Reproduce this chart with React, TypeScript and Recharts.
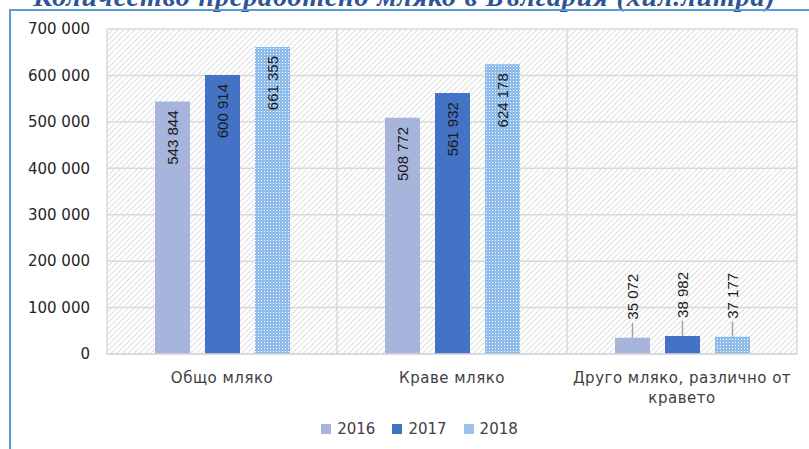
import { Bar, BarChart, CartesianGrid, LabelList, Legend, XAxis, YAxis } from 'recharts';

const categories = ['Общо мляко', 'Краве мляко', 'Друго мляко, различно от кравето'];
const values2016 = [543844, 508772, 35072];
const values2017 = [600914, 561932, 38982];
const values2018 = [661355, 624178, 37177];
const yTicks = [0, 100000, 200000, 300000, 400000, 500000, 600000, 700000];
const years = ['2016', '2017', '2018'];

const data = categories.map((name, i) => ({
  name,
  y2016: values2016[i],
  y2017: values2017[i],
  y2018: values2018[i],
}));

const colors = ['#a7b5dc', '#4472c4', 'url(#dots2018)'];
const legendColors = ['#a7b5dc', '#4472c4', '#9cc2ea'];
const font = '"DejaVu Sans", sans-serif';

const fmt = (v: number) => String(v).replace(/\B(?=(\d{3})+(?!\d))/g, ' ');

function ValueLabel(props: any) {
  const { x, y, width, height, value } = props;
  const cx = x + width / 2;
  if (height > 100) {
    return (
      <text
        x={cx}
        y={y + 9}
        transform={`rotate(-90 ${cx} ${y + 9})`}
        textAnchor="end"
        dominantBaseline="central"
        fontFamily='"Liberation Sans", sans-serif'
        fontSize={15}
        fill="#1a1a1a"
      >
        {fmt(value)}
      </text>
    );
  }
  return (
    <g>
      <line x1={cx} x2={cx} y1={y} y2={y - 15} stroke="#a6a6a6" strokeWidth={1.5} />
      <text
        x={cx}
        y={y - 18}
        transform={`rotate(-90 ${cx} ${y - 18})`}
        textAnchor="start"
        dominantBaseline="central"
        fontFamily='"Liberation Sans", sans-serif'
        fontSize={15}
        fill="#1a1a1a"
      >
        {fmt(value)}
      </text>
    </g>
  );
}

function CategoryTick(props: any) {
  const { x, y, payload } = props;
  const label: string = payload.value;
  const lines = label.length > 20 ? ['Друго мляко, различно от', 'кравето'] : [label];
  return (
    <text x={x} y={y} textAnchor="middle" fontFamily={font} fontSize={15} letterSpacing={0.5} fill="#404040">
      {lines.map((l, i) => (
        <tspan key={i} x={x} dy={i === 0 ? 27 : 20}>
          {l}
        </tspan>
      ))}
    </text>
  );
}

function LegendContent() {
  return (
    <div
      style={{
        display: 'flex',
        justifyContent: 'center',
        height: 20,
        alignItems: 'center',
        paddingLeft: 32,
        fontFamily: font,
        fontSize: 15,
        color: '#404040',
      }}
    >
      {years.map((yr, i) => (
        <div key={yr} style={{ display: 'flex', alignItems: 'center', marginRight: i < 2 ? 17 : 0 }}>
          <span style={{ width: 10, height: 10, background: legendColors[i], marginRight: 6, display: 'inline-block' }} />
          {yr}
        </div>
      ))}
    </div>
  );
}

export default function App() {
  return (
    <div style={{ position: 'absolute', left: 0, top: 0, width: 809, height: 449, overflow: 'hidden', background: '#fff' }}>
      <div
        style={{
          position: 'absolute',
          top: -17,
          left: 0,
          width: 809,
          textAlign: 'center',
          fontFamily: '"Liberation Serif", serif',
          fontStyle: 'italic',
          fontWeight: 'bold',
          fontSize: 28,
          letterSpacing: 0.9,
          lineHeight: '28px',
          color: '#2f5496',
          whiteSpace: 'nowrap',
        }}
      >
        Количество преработено мляко в България (хил.литра)
      </div>
      <div style={{ position: 'absolute', left: 9, top: 9, width: 800, height: 2, background: '#5b9bd5' }} />
      <div style={{ position: 'absolute', left: 9, top: 9, width: 2, height: 440, background: '#5b9bd5' }} />
      <div style={{ position: 'absolute', left: 0, top: 0 }}>
        <BarChart
          width={809}
          height={449}
          data={data}
          margin={{ top: 29, right: 12, left: 10, bottom: 10 }}
          barSize={35}
          barGap={15}
        >
          <defs>
            <pattern id="hatch" patternUnits="userSpaceOnUse" width="4" height="4" patternTransform="rotate(-45)">
              <rect width="4" height="4" fill="#ffffff" />
              <line x1="0" y1="0" x2="4" y2="0" stroke="#cdcdcd" strokeWidth="1.3" />
            </pattern>
            <pattern id="dots2018" patternUnits="userSpaceOnUse" width="3" height="3">
              <rect x="0" y="0" width="3" height="3" fill="#8dbbea" shapeRendering="crispEdges" />
              <rect x="0" y="0" width="1" height="1" fill="#ffffff" shapeRendering="crispEdges" />
            </pattern>
          </defs>
          <CartesianGrid
            stroke="#d9d9d9"
            strokeWidth={1.5}
            fill="url(#hatch)"
            fillOpacity={1}
            verticalCoordinatesGenerator={({ offset }: any) =>
              [0, 1, 2, 3].map((k) => offset.left + (k * offset.width) / categories.length)
            }
          />
          <XAxis
            dataKey="name"
            height={65}
            axisLine={{ stroke: '#d9d9d9', strokeWidth: 1.5 }}
            tickLine={false}
            tickSize={0}
            tick={<CategoryTick />}
            interval={0}
          />
          <YAxis
            width={97}
            domain={[0, 700000]}
            ticks={yTicks}
            tickFormatter={fmt}
            axisLine={false}
            tickLine={false}
            tickMargin={11}
            tick={{ fontFamily: font, fontSize: 15, fill: '#262626' }}
          />
          <Legend verticalAlign="bottom" content={<LegendContent />} />
          <Bar dataKey="y2016" fill={colors[0]} isAnimationActive={false}>
            <LabelList dataKey="y2016" content={<ValueLabel />} />
          </Bar>
          <Bar dataKey="y2017" fill={colors[1]} isAnimationActive={false}>
            <LabelList dataKey="y2017" content={<ValueLabel />} />
          </Bar>
          <Bar dataKey="y2018" fill={colors[2]} isAnimationActive={false}>
            <LabelList dataKey="y2018" content={<ValueLabel />} />
          </Bar>
        </BarChart>
      </div>
    </div>
  );
}
